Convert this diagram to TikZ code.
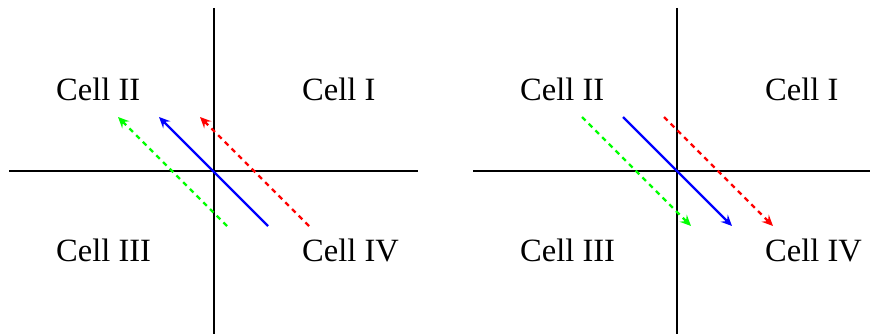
\documentclass[tikz,border=0pt]{standalone}
\usepackage{fontspec}
\setmainfont{Liberation Serif}
\usetikzlibrary{arrows.meta}
\begin{document}
\begin{tikzpicture}[x=1pt,y=-1pt,
  axis/.style={black,line width=1.4pt},
  flow/.style={line width=2.4pt,-{Stealth[length=11pt,width=10pt,inset=4pt]}},
  dflow/.style={flow,dash pattern=on 5pt off 4.5pt},
  lbl/.style={anchor=base west,inner sep=0pt,font=\fontsize{32.5}{38}\selectfont}]
\useasboundingbox (0,0) rectangle (870,334);
% left panel
\coordinate (LT) at (214,8); \coordinate (LB) at (214,334);
\coordinate (LL) at (9,171); \coordinate (LR) at (418,171);
\draw[axis] (LT) -- (LB);
\draw[axis] (LL) -- (LR);
\node[lbl] (l2) at (56,101) {Cell II};
\node[lbl] (l1) at (302,101) {Cell I};
\node[lbl] (l3) at (56,261) {Cell III};
\node[lbl] (l4) at (302,261) {Cell IV};
\coordinate (lgs) at (227,226); \coordinate (lge) at (118,117);
\coordinate (lbs) at (268,226); \coordinate (lbe) at (159,117);
\coordinate (lrs) at (309,226); \coordinate (lre) at (200,117);
\draw[dflow,green] (lgs) -- (lge);
\draw[flow,blue] (lbs) -- (lbe);
\draw[dflow,red] (lrs) -- (lre);
% right panel
\coordinate (RT) at (677,8); \coordinate (RB) at (677,334);
\coordinate (RL) at (473,171); \coordinate (RR) at (870,171);
\draw[axis] (RT) -- (RB);
\draw[axis] (RL) -- (RR);
\node[lbl] (r2) at (520,101) {Cell II};
\node[lbl] (r1) at (765,101) {Cell I};
\node[lbl] (r3) at (520,261) {Cell III};
\node[lbl] (r4) at (765,261) {Cell IV};
\coordinate (rgs) at (582,117); \coordinate (rge) at (691,226);
\coordinate (rbs) at (623,117); \coordinate (rbe) at (732,226);
\coordinate (rrs) at (664,117); \coordinate (rre) at (773,226);
\draw[dflow,green] (rgs) -- (rge);
\draw[flow,blue] (rbs) -- (rbe);
\draw[dflow,red] (rrs) -- (rre);
\end{tikzpicture}
\end{document}
